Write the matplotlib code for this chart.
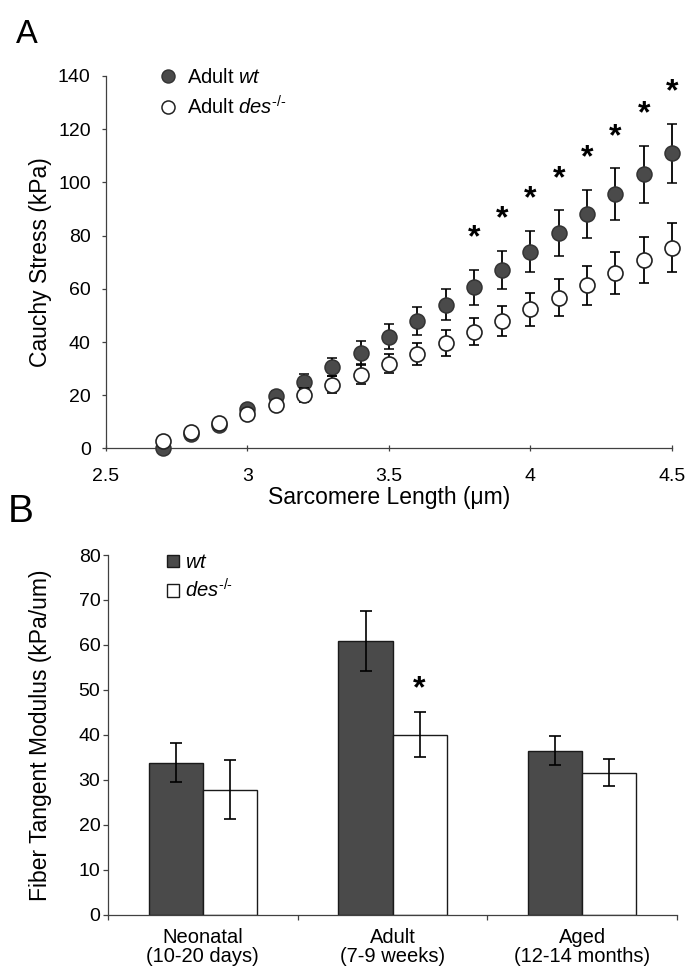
import matplotlib
matplotlib.use('Agg')
import matplotlib.pyplot as plt
from matplotlib.lines import Line2D
from matplotlib.patches import Patch
import numpy as np

BASE = 'Liberation Sans'
plt.rcParams['font.family'] = [BASE, 'DejaVu Sans']
plt.rcParams['mathtext.fontset'] = 'custom'
plt.rcParams['mathtext.rm'] = BASE
plt.rcParams['mathtext.it'] = BASE + ':italic'
plt.rcParams['mathtext.bf'] = BASE + ':bold'
plt.rcParams['mathtext.sf'] = BASE

# ---------------- Panel A data ----------------
sarc_len = [2.7, 2.8, 2.9, 3.0, 3.1, 3.2, 3.3, 3.4, 3.5, 3.6, 3.7, 3.8, 3.9, 4.0, 4.1, 4.2, 4.3, 4.4, 4.5]
wt_stress = [0.2, 5.6, 8.9, 14.9, 19.9, 24.9, 30.5, 35.9, 42.0, 48.0, 54.1, 60.5, 67.1, 74.0, 81.0, 88.2, 95.5, 103.0, 111.0]
wt_stress_err = [0.5, 0.8, 1.0, 1.3, 1.7, 3.1, 3.4, 4.3, 4.6, 5.3, 5.8, 6.5, 7.1, 7.8, 8.5, 9.0, 9.8, 10.6, 11.1]
des_stress = [2.7, 6.1, 9.6, 13.0, 16.5, 20.1, 23.9, 27.7, 31.8, 35.5, 39.6, 43.9, 48.0, 52.4, 56.7, 61.4, 66.0, 70.8, 75.5]
des_stress_err = [0.5, 0.6, 0.8, 1.0, 1.5, 2.7, 3.2, 3.5, 3.6, 4.2, 4.8, 5.2, 5.7, 6.2, 6.9, 7.3, 8.0, 8.6, 9.2]
sig_len = [3.8, 3.9, 4.0, 4.1, 4.2, 4.3, 4.4, 4.5]
x_ticks_a = [2.5, 3, 3.5, 4, 4.5]
x_ticklabels_a = ['2.5', '3', '3.5', '4', '4.5']
y_ticks_a = [0, 20, 40, 60, 80, 100, 120, 140]

# ---------------- Panel B data ----------------
groups = ['Neonatal\n(10-20 days)', 'Adult\n(7-9 weeks)', 'Aged\n(12-14 months)']
wt_mod = [33.8, 60.9, 36.5]
wt_mod_err = [4.35, 6.6, 3.3]
des_mod = [27.8, 40.0, 31.6]
des_mod_err = [6.6, 5.0, 3.05]
sig_groups = [1]
y_ticks_b = [0, 10, 20, 30, 40, 50, 60, 70, 80]

DARK = '#4a4a4a'
AXC = '#404040'
TFS = 14      # tick labels
LFS = 16.5    # axis labels
GFS = 14.5    # legend / category labels
HY = '\u2010'  # hyphen for the superscript

fig = plt.figure(figsize=(6.85, 9.69), dpi=100)

# ================= Panel A =================
axA = fig.add_axes([0.1547, 0.5372, 0.8263, 0.3844])
axA.errorbar(sarc_len, wt_stress, yerr=wt_stress_err, fmt='o', ms=10.8,
             mfc=DARK, mec='#333333', mew=1.1, ecolor='black', elinewidth=1.3,
             capsize=3.6, capthick=1.3, clip_on=False, zorder=3)
axA.errorbar(sarc_len, des_stress, yerr=des_stress_err, fmt='o', ms=10.8,
             mfc='white', mec='#222222', mew=1.2, ecolor='black', elinewidth=1.3,
             capsize=3.6, capthick=1.3, clip_on=False, zorder=4)
wt_lookup = dict(zip(sarc_len, zip(wt_stress, wt_stress_err)))
for x in sig_len:
    m, e = wt_lookup[x]
    axA.annotate('*', xy=(x, m + e + 15.5), xytext=(0, -12.8), textcoords='offset points',
                 ha='center', va='baseline', fontsize=23, fontweight='bold',
                 family=BASE, annotation_clip=False)
axA.set_xlim(2.5, 4.5)
axA.set_ylim(0, 140)
axA.set_xticks(x_ticks_a)
axA.set_xticklabels(x_ticklabels_a)
axA.set_yticks(y_ticks_a)
for s in ['top', 'right']:
    axA.spines[s].set_visible(False)
for s in ['left', 'bottom']:
    axA.spines[s].set_color(AXC)
    axA.spines[s].set_linewidth(0.9)
axA.tick_params(axis='y', direction='out', length=3, width=0.9, color=AXC, pad=8, labelsize=TFS)
axA.tick_params(axis='x', direction='inout', length=4.5, width=0.9, color=AXC, pad=11.5, labelsize=TFS)
axA.set_xlabel('Sarcomere Length (\u03bcm)', fontsize=LFS)
axA.xaxis.set_label_coords(0.5, -0.1)
axA.set_ylabel('Cauchy Stress (kPa)', fontsize=LFS)
axA.yaxis.set_label_coords(-0.095, 0.5)

hA = [Line2D([], [], ls='none', marker='o', ms=9.4, mfc=DARK, mec='#333333', mew=1.0),
      Line2D([], [], ls='none', marker='o', ms=9.4, mfc='white', mec='#222222', mew=1.1)]
axA.legend(hA, [r'Adult $\mathit{wt}$', 'Adult $\\mathit{des}^{' + HY + '/' + HY + '}$'],
           loc='upper left',
           bbox_to_anchor=(159.7 / 685, 1 - 68 / 969), bbox_transform=fig.transFigure,
           frameon=False, borderpad=0, borderaxespad=0, handlelength=0.8,
           handletextpad=0.55, labelspacing=0.4, fontsize=GFS)

fig.text(16 / 685, 1 - 43 / 969, 'A', ha='left', va='baseline', fontsize=23.5, family=BASE)

# ================= Panel B =================
axB = fig.add_axes([0.1577, 0.0561, 0.8307, 0.3711])
xpos = np.arange(len(groups))
bw = 0.285
axB.bar(xpos - bw / 2, wt_mod, bw, color=DARK, edgecolor='#1a1a1a', linewidth=1.0, zorder=2)
axB.bar(xpos + bw / 2, des_mod, bw, color='white', edgecolor='#1a1a1a', linewidth=1.0, zorder=2)
axB.errorbar(xpos - bw / 2, wt_mod, yerr=wt_mod_err, fmt='none', ecolor='black',
             elinewidth=1.2, capsize=4.5, capthick=1.2, zorder=3)
axB.errorbar(xpos + bw / 2, des_mod, yerr=des_mod_err, fmt='none', ecolor='black',
             elinewidth=1.2, capsize=4.5, capthick=1.2, zorder=3)
for g in sig_groups:
    axB.annotate('*', xy=(xpos[g] + bw / 2, des_mod[g] + des_mod_err[g] + 7.4), xytext=(0, -12.8),
                 textcoords='offset points', ha='center', va='baseline', fontsize=23,
                 fontweight='bold', family=BASE)
axB.set_xlim(-0.5, len(groups) - 0.5)
axB.set_ylim(0, 80)
axB.set_yticks(y_ticks_b)
axB.set_xticks(xpos)
axB.set_xticklabels(groups, linespacing=1.0)
axB.set_xticks(np.arange(-0.5, len(groups), 1.0), minor=True)
for s in ['top', 'right']:
    axB.spines[s].set_visible(False)
for s in ['left', 'bottom']:
    axB.spines[s].set_color(AXC)
    axB.spines[s].set_linewidth(0.9)
axB.tick_params(axis='y', direction='out', length=3.5, width=0.9, color=AXC, pad=2, labelsize=TFS)
axB.tick_params(axis='x', which='major', length=0, pad=9.5, labelsize=GFS)
axB.tick_params(axis='x', which='minor', direction='out', length=3.5, width=0.9, color=AXC)
axB.set_ylabel('Fiber Tangent Modulus (kPa/um)', fontsize=LFS)
axB.yaxis.set_label_coords(-0.098, 0.5)

hB = [Patch(facecolor=DARK, edgecolor='#1a1a1a', linewidth=1.0),
      Patch(facecolor='white', edgecolor='#1a1a1a', linewidth=1.0)]
axB.legend(hB, [r'$\mathit{wt}$', '$\\mathit{des}^{' + HY + '/' + HY + '}$'], loc='upper left',
           bbox_to_anchor=(167 / 685, 1 - 553 / 969), bbox_transform=fig.transFigure,
           frameon=False, borderpad=0, borderaxespad=0, handlelength=0.6, handleheight=0.6,
           handletextpad=0.3, labelspacing=0.3, fontsize=GFS)

fig.text(8 / 685, 1 - 522 / 969, 'B', ha='left', va='baseline', fontsize=28, family=BASE)

fig.savefig('out.png', dpi=100, facecolor='white')
